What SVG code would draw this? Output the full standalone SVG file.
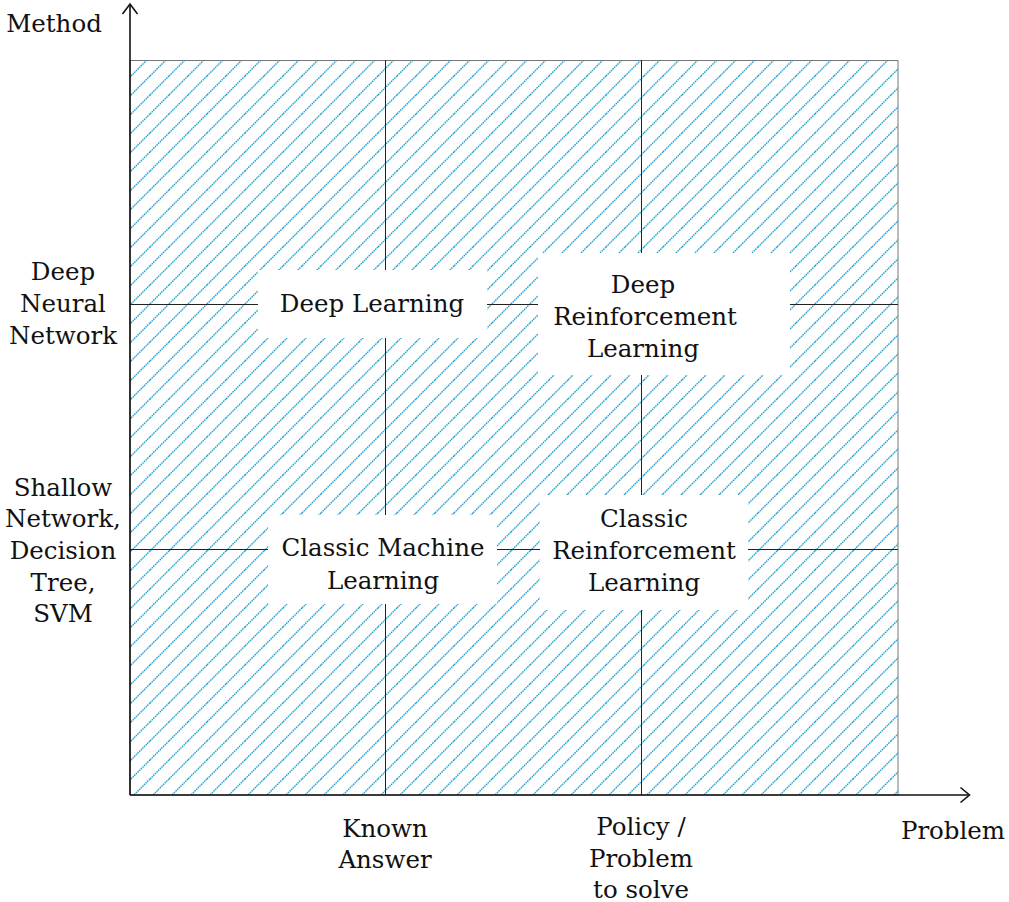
<svg xmlns="http://www.w3.org/2000/svg" width="1009" height="902" viewBox="0 0 1009 902">
<style>
.t{font-family:"DejaVu Serif","Liberation Serif",serif;font-size:24.5px;fill:#111;text-anchor:middle}
.grid{stroke:#222;stroke-width:1;fill:none}
.axis{stroke:#111;stroke-width:1.6;fill:none}
.box{fill:#fff}
</style>
<defs>
<pattern id="hatch" patternUnits="userSpaceOnUse" x="17" y="0" width="19" height="19">
<path d="M-2,2 L2,-2 M0,19 L19,0 M17,21 L21,17" stroke="#22a3cf" stroke-width="1.4" stroke-dasharray="1.6 0.7"/>
</pattern>
</defs>
<rect id="area" x="130" y="60.5" width="768" height="734.5" fill="url(#hatch)" stroke="#777" stroke-width="1"/>
<g id="connectors">
<line class="grid" x1="385.5" y1="60" x2="385.5" y2="795"/>
<line class="grid" x1="641.5" y1="60" x2="641.5" y2="795"/>
<line class="grid" x1="130" y1="304.5" x2="898" y2="304.5"/>
<line class="grid" x1="130" y1="549.5" x2="898" y2="549.5"/>
<line class="axis" x1="130" y1="795" x2="130" y2="5"/>
<polyline class="axis" points="122.5,14 130,4 137.5,14"/>
<line class="axis" x1="130" y1="795" x2="968" y2="795"/>
<polyline class="axis" points="960.5,787.5 969.5,795 960.5,802.5"/>
</g>
<g id="deep-learning">
<rect class="box" x="258" y="270" width="229" height="68"/>
<text class="t" x="372" y="312">Deep Learning</text>
</g>
<g id="deep-rl">
<rect class="box" x="538" y="253" width="252" height="122"/>
<text class="t" x="643" y="293">Deep</text>
<text class="t" x="645" y="325">Reinforcement</text>
<text class="t" x="643" y="357">Learning</text>
</g>
<g id="classic-ml">
<rect class="box" x="268" y="515" width="229" height="89"/>
<text class="t" x="383" y="556">Classic Machine</text>
<text class="t" x="383" y="589">Learning</text>
</g>
<g id="classic-rl">
<rect class="box" x="540" y="495" width="208" height="115"/>
<text class="t" x="644" y="527">Classic</text>
<text class="t" x="644" y="559">Reinforcement</text>
<text class="t" x="644" y="591">Learning</text>
</g>
<g id="y-labels">
<text class="t" x="54" y="32">Method</text>
<text class="t" x="63" y="280">Deep</text>
<text class="t" x="63" y="312">Neural</text>
<text class="t" x="63" y="344">Network</text>
<text class="t" x="63" y="496">Shallow</text>
<text class="t" x="63" y="527">Network,</text>
<text class="t" x="63" y="559">Decision</text>
<text class="t" x="63" y="591">Tree,</text>
<text class="t" x="63" y="622">SVM</text>
</g>
<g id="x-labels">
<text class="t" x="385" y="837">Known</text>
<text class="t" x="385" y="868">Answer</text>
<text class="t" x="641" y="835">Policy /</text>
<text class="t" x="641" y="867">Problem</text>
<text class="t" x="641" y="898">to solve</text>
<text class="t" x="953" y="839">Problem</text>
</g>
</svg>
